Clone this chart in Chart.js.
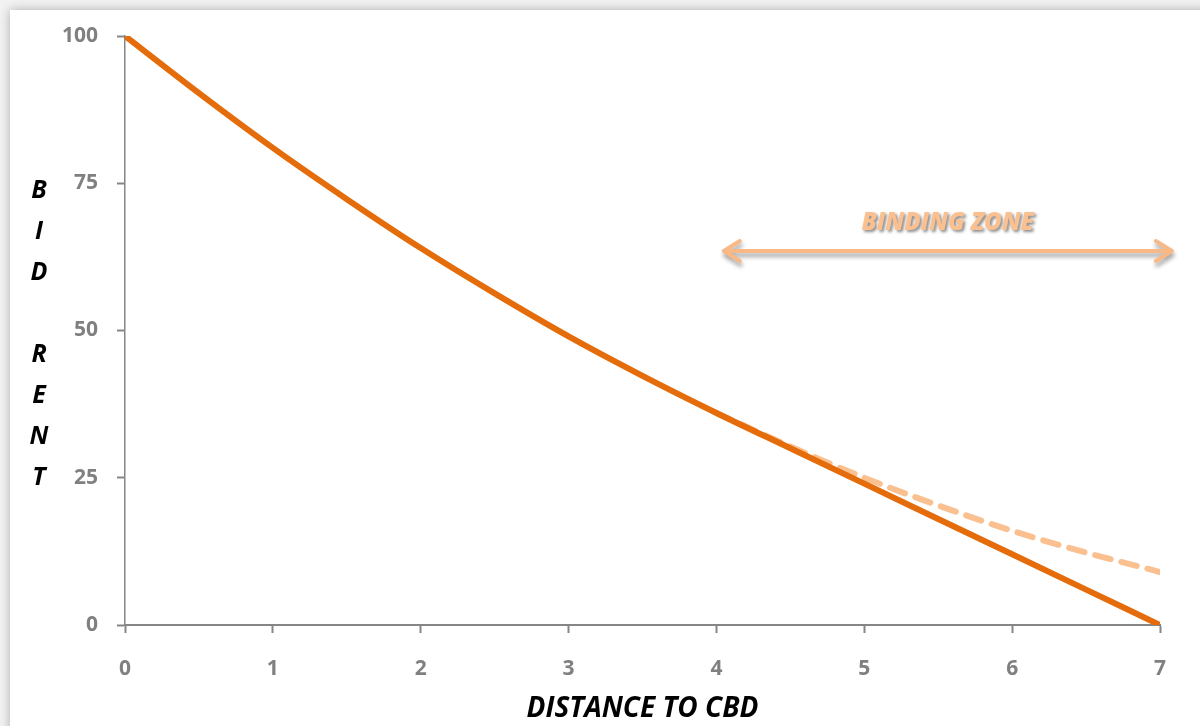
<!DOCTYPE html>
<html>
<head>
<meta charset="utf-8">
<script src="https://cdn.jsdelivr.net/npm/chart.js@4/dist/chart.umd.min.js"></script>
<style>
  html, body { margin: 0; padding: 0; background: #f2f2f2; }
  body { width: 1200px; height: 726px; position: relative; overflow: hidden; }
  #frame { position: absolute; left: 10px; top: 10px; width: 1200px; height: 730px; background: #fff;
           box-shadow: 0 0 10px rgba(0,0,0,0.28); }
  #wrap { position: absolute; left: 0; top: 0; width: 1200px; height: 726px; }
</style>
</head>
<body>
<div id="frame"></div>
<div id="wrap"><canvas id="c" width="1200" height="726"></canvas></div>
<script>
// Data
const distance = [0, 0.5, 1, 1.5, 2, 2.5, 3, 3.5, 4, 4.5, 5, 5.5, 6, 6.5, 7];
const bidRent  = [100, 90.3, 81, 72.3, 64, 56.3, 49, 42.3, 36, 30, 24, 18, 12, 6, 0];
const distanceUnbound = [4, 4.5, 5, 5.5, 6, 6.5, 7];
const bidRentUnbound  = [36, 30.3, 25, 20.3, 16, 12.3, 9];
const xTicks = [0, 1, 2, 3, 4, 5, 6, 7];
const yTicks = [0, 25, 50, 75, 100];
const yTitleLetters = ['B', 'I', 'D', '', 'R', 'E', 'N', 'T'];
const xTitle = 'DISTANCE TO CBD';
const zoneLabel = 'BINDING ZONE';
const zoneFrom = 4.05, zoneTo = 7.08, zoneLevel = 63.5, zoneTextLevel = 68.3;

const ORANGE = '#E46C0A';
const PEACH = '#FAC090';
const GRAY = '#868686';
const TICKGRAY = '#808080';
const FONT = "'Open Sans'";

const overlay = {
  id: 'overlay',
  afterDraw(chart) {
    const ctx = chart.ctx;
    const xs = chart.scales.x, ys = chart.scales.y;
    // stacked y-axis title
    ctx.save();
    ctx.font = "italic bold 25px " + FONT;
    ctx.fillStyle = '#000';
    ctx.textAlign = 'center';
    ctx.textBaseline = 'middle';
    yTitleLetters.forEach((l, i) => {
      if (l) ctx.fillText(l, 39, 191 + i * 41);
    });
    ctx.restore();

    // Binding zone arrow
    const x1 = xs.getPixelForValue(zoneFrom), x2 = xs.getPixelForValue(zoneTo);
    const y = ys.getPixelForValue(zoneLevel);
    ctx.save();
    ctx.shadowColor = 'rgba(0,0,0,0.35)';
    ctx.shadowOffsetX = 1;
    ctx.shadowOffsetY = 4;
    ctx.shadowBlur = 4;
    ctx.strokeStyle = '#F9B987';
    ctx.lineWidth = 4;
    ctx.lineCap = 'round';
    ctx.lineJoin = 'round';
    ctx.beginPath();
    ctx.moveTo(x1, y); ctx.lineTo(x2, y);
    ctx.moveTo(x1 + 16, y - 10); ctx.lineTo(x1, y); ctx.lineTo(x1 + 16, y + 10);
    ctx.moveTo(x2 - 16, y - 10); ctx.lineTo(x2, y); ctx.lineTo(x2 - 16, y + 10);
    ctx.stroke();
    ctx.restore();

    // Binding zone label
    ctx.save();
    ctx.font = "italic 800 24px " + FONT;
    ctx.textAlign = 'center';
    ctx.textBaseline = 'middle';
    ctx.shadowColor = 'rgba(0,0,0,0.45)';
    ctx.shadowOffsetX = 2;
    ctx.shadowOffsetY = 2;
    ctx.shadowBlur = 3;
    ctx.fillStyle = PEACH;
    ctx.fillText(zoneLabel, (x1 + x2) / 2 + 0, ys.getPixelForValue(zoneTextLevel));
    ctx.restore();
  }
};

new Chart(document.getElementById('c'), {
  type: 'scatter',
  data: {
    datasets: [
      {
        label: 'Bid rent',
        data: distance.map((d, i) => ({ x: d, y: bidRent[i] })),
        showLine: true,
        borderColor: ORANGE,
        borderWidth: 6,
        pointRadius: 0,
        cubicInterpolationMode: 'monotone',
        borderCapStyle: 'butt',
        order: 0
      },
      {
        label: 'Unconstrained',
        data: distanceUnbound.map((d, i) => ({ x: d, y: bidRentUnbound[i] })),
        showLine: true,
        borderColor: PEACH,
        borderWidth: 6,
        borderDash: [16, 11],
        borderCapStyle: 'round',
        pointRadius: 0,
        cubicInterpolationMode: 'monotone',
        order: 1
      }
    ]
  },
  options: {
    responsive: false,
    animation: false,
    events: [],
    layout: { padding: { top: 36, right: 40, left: 0, bottom: 0 } },
    plugins: { legend: { display: false }, tooltip: { enabled: false } },
    scales: {
      x: {
        type: 'linear',
        min: 0, max: 7,
        afterBuildTicks: (s) => { s.ticks = xTicks.map(v => ({ value: v })); },
        afterFit: (s) => { s.height = 101; },
        grid: { drawOnChartArea: false, drawTicks: true, tickLength: 8, color: GRAY, tickWidth: 2 },
        border: { color: GRAY, width: 2 },
        ticks: { color: TICKGRAY, font: { family: FONT, weight: 'bold', size: 21 }, padding: 23 },
        title: { display: true, text: xTitle, color: '#000',
                 font: { family: FONT, weight: 'bold', style: 'italic', size: 28 },
                 padding: { top: 0, bottom: 0 } }
      },
      y: {
        type: 'linear',
        min: 0, max: 100,
        afterBuildTicks: (s) => { s.ticks = yTicks.map(v => ({ value: v })); },
        afterFit: (s) => { s.width = 125; },
        grid: { drawOnChartArea: false, drawTicks: true, tickLength: 8, color: GRAY, tickWidth: 2 },
        border: { color: GRAY, width: 1.5 },
        ticks: { color: TICKGRAY, font: { family: FONT, weight: 'bold', size: 21 }, padding: 19 }
      }
    }
  },
  plugins: [overlay]
});
</script>
</body>
</html>
